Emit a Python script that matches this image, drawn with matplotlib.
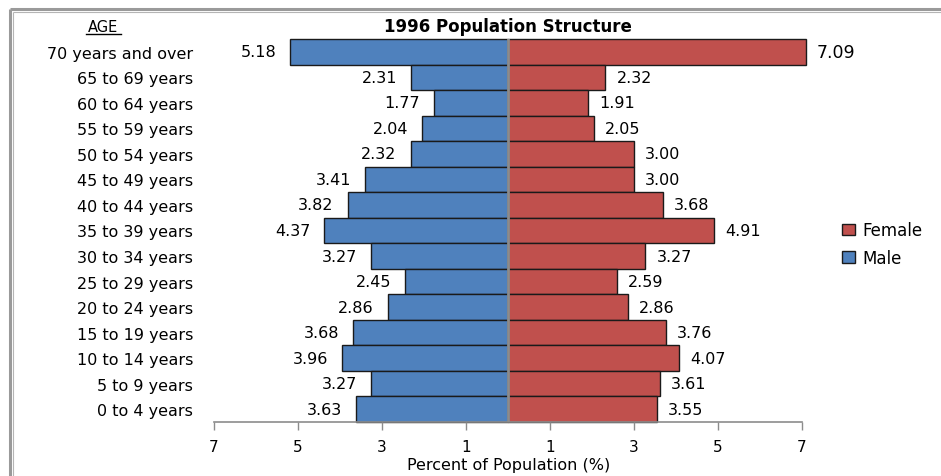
import matplotlib
matplotlib.use("Agg")
import matplotlib.pyplot as plt
from matplotlib.lines import Line2D
from matplotlib.patches import Patch
import numpy as np

plt.rcParams['font.family'] = ['DejaVu Sans']

categories = ["70 years and over", "65 to 69 years", "60 to 64 years", "55 to 59 years",
              "50 to 54 years", "45 to 49 years", "40 to 44 years", "35 to 39 years",
              "30 to 34 years", "25 to 29 years", "20 to 24 years", "15 to 19 years",
              "10 to 14 years", "5 to 9 years", "0 to 4 years"]
male = [5.18, 2.31, 1.77, 2.04, 2.32, 3.41, 3.82, 4.37, 3.27, 2.45, 2.86, 3.68, 3.96, 3.27, 3.63]
female = [7.09, 2.32, 1.91, 2.05, 3.00, 3.00, 3.68, 4.91, 3.27, 2.59, 2.86, 3.76, 4.07, 3.61, 3.55]
tick_values = [-7, -5, -3, -1, 1, 3, 5, 7]
tick_labels = ["7", "5", "3", "1", "1", "3", "5", "7"]

W, H = 941, 477
fig = plt.figure(figsize=(W / 100, H / 100), dpi=100)
ax = fig.add_axes([214 / W, 1 - 423 / H, (802 - 214) / W, (423 - 40) / H])

blue = "#4F81BD"
red = "#C0504D"
n = len(categories)
y = np.arange(n)[::-1]

mbars = ax.barh(y, [-m for m in male], height=1.0, color=blue, edgecolor="#1a1a1a", linewidth=1.0)
fbars = ax.barh(y, female, height=1.0, color=red, edgecolor="#1a1a1a", linewidth=1.0)
for b in list(mbars) + list(fbars):
    b.set_clip_on(False)

ax.set_xlim(-7, 7)
ax.set_ylim(-0.5, n - 0.5)
ax.axvline(0, color="#8c8c8c", linewidth=2.0, zorder=5)

for yi, m in zip(y, male):
    ax.annotate(f"{m:.2f}", xy=(-m, yi), xytext=(-10, 0), textcoords="offset points",
                ha="right", va="center", fontsize=11.5, color="black")
for i, (yi, f) in enumerate(zip(y, female)):
    fs = 12.5 if i == 0 else 11.5
    ax.annotate(f"{f:.2f}", xy=(f, yi), xytext=(8, 0), textcoords="offset points",
                ha="left", va="center", fontsize=fs, color="black", annotation_clip=False)

ax.set_yticks(y)
ax.set_yticklabels(categories, fontsize=11.5)
ax.tick_params(axis="y", length=0, pad=15)
ax.set_xticks(tick_values)
ax.set_xticklabels(tick_labels, fontsize=11)
ax.tick_params(axis="x", direction="out", length=6, width=1, color="#8c8c8c", pad=6)

for s in ["top", "left", "right"]:
    ax.spines[s].set_visible(False)
ax.spines["bottom"].set_color("#8c8c8c")
ax.spines["bottom"].set_linewidth(1.2)

fig.text(509 / W, 1 - 466 / H, "Percent of Population (%)", ha="center", va="center", fontsize=11.5)

fig.text(508 / W, 1 - 27 / H, "1996 Population Structure", ha="center", va="center",
         fontsize=12, fontweight="bold")
fig.text(103 / W, 1 - 28 / H, "AGE", ha="center", va="center", fontsize=10.5)
fig.add_artist(Line2D([86 / W, 121 / W], [1 - 35 / H, 1 - 35 / H], color="black", linewidth=1.0))

handles = [Patch(facecolor=red, edgecolor="#1a1a1a", linewidth=1.0, label="Female"),
           Patch(facecolor=blue, edgecolor="#1a1a1a", linewidth=1.0, label="Male")]
fig.legend(handles=handles, loc="center left", bbox_to_anchor=(842 / W, 1 - 245 / H),
           frameon=False, fontsize=12, handlelength=0.8, handleheight=0.7,
           handletextpad=0.4, labelspacing=0.55, borderaxespad=0, borderpad=0)

# outer double border (left and top only)
fig.add_artist(Line2D([9.5 / W, 9.5 / W], [0, 1 - 9.5 / H], color="#9a9a9a", linewidth=2.2,
                      solid_capstyle="butt"))
fig.add_artist(Line2D([9.5 / W, 1.01], [1 - 9.5 / H, 1 - 9.5 / H], color="#9a9a9a", linewidth=2.2,
                      solid_capstyle="butt"))
fig.add_artist(Line2D([12.8 / W, 12.8 / W], [0, 1 - 12.8 / H], color="#b5b5b5", linewidth=0.8,
                      solid_capstyle="butt"))
fig.add_artist(Line2D([12.8 / W, 1.01], [1 - 12.8 / H, 1 - 12.8 / H], color="#b5b5b5", linewidth=0.8,
                      solid_capstyle="butt"))

fig.savefig("out.png", dpi=100)
